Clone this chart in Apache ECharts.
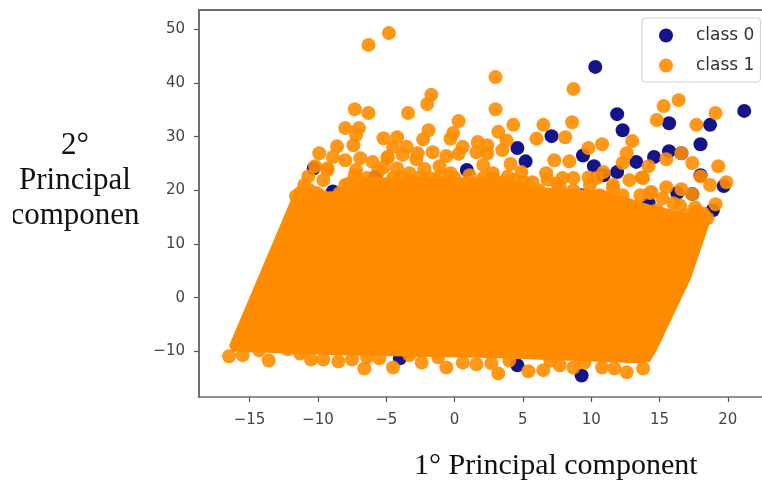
<!DOCTYPE html>
<html>
<head>
<meta charset="utf-8">
<style>
html,body{margin:0;padding:0;background:#fff;}
#c{width:762px;height:480px;filter:blur(0.6px);}
</style>
<script src="https://cdn.jsdelivr.net/npm/echarts@6/dist/echarts.min.js"></script>
</head>
<body>
<div id="c"></div>
<script>
const xTicks = [-15,-10,-5,0,5,10,15,20];
const yTicks = [-10,0,10,20,30,40,50];
const seriesNames = ['class 0','class 1'];
const xTitle = '1° Principal component';
const yTitle = '2°\nPrincipal\ncomponen';

// Individually visible class 0 points
const class0Points = [
[10.3,43.0],[21.2,34.8],[11.9,34.2],[12.3,31.2],[15.7,32.5],[18.7,32.2],[18.0,28.6],[7.1,30.1],
[4.6,27.9],[5.2,25.4],[9.4,26.5],[10.2,24.5],[13.3,25.3],[14.6,26.2],[15.7,27.3],[11.9,23.4],
[18.0,22.8],[19.7,20.8],[9.3,19.1],[16.3,19.5],[18.9,16.3],[17.7,15.7],[14.2,17.6],[10.9,22.8],
[16.6,26.9],[-10.3,24.1],[-8.9,19.8],[-5.8,22.5],[0.9,23.8],[4.6,-12.6],[9.3,-14.5],[-4.0,-11.3],
[17.4,19.3]
];

// Individually visible class 1 points along the top of the cloud and above it
const class1Upper = [
[-4.8,49.3],[-6.3,47.1],[-1.7,37.8],[-2.0,36.1],[-3.4,34.4],[-7.3,35.1],[-6.3,34.4],[-8.0,31.6],
[-7.0,31.6],[-7.2,30.3],[-7.4,28.4],[-5.2,29.7],[-4.2,29.9],[-8.6,28.2],[-9.9,26.9],[-1.9,31.2],
[-2.3,29.5],[0.3,32.9],[-0.1,30.7],[-0.3,29.6],[0.6,28.1],[0.3,26.8],[1.6,27.1],[1.7,29.0],
[-3.5,28.1],[-2.7,26.9],[-1.6,27.1],[-3.8,26.6],[-2.8,25.8],[-8.0,25.6],[-6.9,26.0],[-6.0,25.3],
[-4.9,26.2],[-4.2,24.1],[-4.5,28.1],[-8.9,26.2],[-9.3,24.1],[-9.6,21.9],[-10.7,22.6],[-11.0,21.0],
[-3.3,23.2],[-2.2,24.0],[-1.1,24.5],[-0.6,26.4],[-0.3,23.2],[-10.2,24.5],[3.0,41.1],[3.0,35.1],
[8.7,38.9],[8.6,32.7],[6.5,32.2],[4.3,32.2],[6.0,29.6],[8.1,29.9],[3.2,30.9],[3.8,29.3],
[3.5,27.5],[2.4,28.4],[10.8,28.6],[9.8,27.9],[13.0,29.2],[12.6,26.9],[15.3,35.7],[16.4,36.8],
[14.8,33.1],[19.1,34.4],[17.7,32.2],[16.6,26.9],[15.5,25.8],[17.4,25.1],[14.2,24.5],[19.3,24.5],
[18.0,22.6],[18.7,21.0],[19.9,21.5],[15.5,20.6],[16.6,20.2],[17.4,19.3],[19.1,17.4],[17.7,16.1],
[4.1,24.9],[7.3,25.6],[8.4,25.4],[8.7,22.3],[9.8,22.4],[10.9,23.4],[4.9,23.4],[14.4,19.7],
[11.6,21.0],[13.7,22.4],[12.3,25.1],[5.7,21.5],[6.7,23.2],[7.5,21.3],[2.8,22.3],[3.5,21.5],
[4.4,21.9],[6.8,22.0],[7.7,20.6],[8.7,20.0],[9.9,21.0],[11.6,20.4],[12.3,19.1],[12.8,21.9],
[13.8,22.3],[14.3,19.5],[16.0,17.6],[14.8,16.3],[16.9,15.4],[18.5,14.8],[10.6,19.1],[6.2,20.0],
[-5.2,24.3],[-4.5,22.3],[-3.3,21.9],[-2.5,22.5],[-1.8,22.3],[1.1,22.8],[2.1,22.3],[2.1,24.7],
[2.4,26.9],[2.8,23.2],[-4.9,26.0],[-9.3,23.8],[-7.2,23.8],[-7.7,21.3],[-6.4,22.3],[-6.9,21.3],
[-8.4,19.5],[-10.1,19.5],[-11.3,19.5],[-5.8,21.3],
[-11.6,18.9],[-10.6,20.0],[-9.7,18.9],[-8.0,21.0],[-7.3,22.8],[-5.6,23.4],[-3.9,22.6],[-1.1,22.6],
[0,22.3],[3.9,22.6],[5.1,21.5],[7.9,22.3],[10.4,22.3],[13.6,19.1],[15.2,18.5],[16.5,17.2],
[17.6,16.8],[18.2,15.7]
];

// Individually visible class 1 points along the bottom of the cloud
const class1Lower = [
[-16.5,-10.9],[-15.5,-10.7],[-13.6,-11.7],[-14.3,-9.8],[-12.2,-9.6],[-11.3,-10.4],[-10.5,-11.5],
[-9.6,-11.5],[-8.5,-11.9],[-7.5,-11.5],[-6.6,-13.2],[-6.4,-11.1],[-5.5,-11.3],[-4.5,-13.0],
[-3.3,-10.7],[-2.4,-12.1],[-1.2,-11.1],[-0.6,-13.0],[0.6,-12.1],[1.6,-12.4],[3.2,-14.1],[2.7,-12.2],
[5.4,-13.7],[6.5,-13.5],[7.7,-12.6],[8.7,-13.0],[10.8,-13.0],[11.7,-13.2],[12.6,-13.9],[13.8,-13.2],
[4.0,-11.7],[7.0,-11.7],[9.5,-12.1]
];

// Outline of the saturated region where single class 1 points can no longer be told apart
const class1DenseOutline = [
[-16.5,-8.9],[-11.8,19.3],[-8.0,20.0],[-6.5,22.4],[3.3,22.4],[6.6,20.5],[10.9,20.0],[14.5,17.2],[18.8,14.8],
[17.3,3.6],[14.8,-9.8],[14.3,-12.0],[13.5,-12.2],[3.3,-11.3],[-8.4,-10.7],[-16.3,-10.0]
];

const navy = '#000080';
const orange = '#ff8c00';
const tickFmt = v => String(v).replace('-', '\u2212');
const spine = '#6e6e6e';

const chart = echarts.init(document.getElementById('c'), null, {renderer:'canvas'});
chart.setOption({
  animation:false,
  backgroundColor:'#fff',
  grid:{left:199,top:10,right:0,bottom:83,containLabel:false},
  xAxis:[{
    type:'value',min:-18.7,max:22.5,splitLine:{show:false},
    axisLine:{show:true,onZero:false,lineStyle:{color:spine,width:1.6}},
    axisTick:{show:true,length:5,lineStyle:{color:'#555',width:1.2},customValues:xTicks},
    axisLabel:{color:'#444',fontFamily:'DejaVu Sans',fontSize:15,margin:16,formatter:tickFmt,customValues:xTicks}
  },{
    type:'value',position:'top',min:-18.7,max:22.5,splitLine:{show:false},
    axisLine:{show:true,onZero:false,lineStyle:{color:spine,width:2}},
    axisTick:{show:false},axisLabel:{show:false}
  }],
  yAxis:{
    type:'value',min:-18.5,max:53.6,splitLine:{show:false},
    axisLine:{show:true,onZero:false,lineStyle:{color:spine,width:2}},
    axisTick:{show:true,length:5,lineStyle:{color:'#555',width:1.2},customValues:yTicks},
    axisLabel:{color:'#444',fontFamily:'DejaVu Sans',fontSize:15,margin:14,formatter:tickFmt,customValues:yTicks}
  },
  legend:{
    data:seriesNames,orient:'vertical',left:642,top:18,
    padding:[9,6,8,17],itemWidth:14,itemHeight:14,itemGap:13,
    backgroundColor:'#fff',borderColor:'#d0d0d0',borderWidth:1,borderRadius:3,
    icon:'circle',
    textStyle:{color:'#333',fontFamily:'DejaVu Sans',fontSize:17,lineHeight:14,padding:[0,0,0,18]}
  },
  series:[
    {name:seriesNames[0],type:'scatter',symbolSize:14,data:class0Points,z:2,
     itemStyle:{color:navy,opacity:0.92}},
    {type:'custom',z:3,silent:true,coordinateSystem:'cartesian2d',
     data:[[0,0]],
     renderItem:(params,api)=>({
       type:'polygon',
       shape:{points:class1DenseOutline.map(p=>api.coord(p))},
       style:{fill:orange}
     })},
    {name:seriesNames[1],type:'scatter',symbolSize:14,data:class1Upper.concat(class1Lower),z:4,
     itemStyle:{color:orange,opacity:0.9}}
  ],
  graphic:[
    {type:'text',z:100,style:{x:75,y:128,text:yTitle,fill:'#111',font:'31px "Liberation Serif"',textAlign:'center',lineHeight:35}},
    {type:'rect',z:101,shape:{x:0,y:200,width:13,height:35},style:{fill:'#fff'}},
    {type:'text',z:100,style:{x:414,y:451,text:xTitle,fill:'#111',font:'30px "Liberation Serif"'}}
  ]
});
</script>
</body>
</html>
